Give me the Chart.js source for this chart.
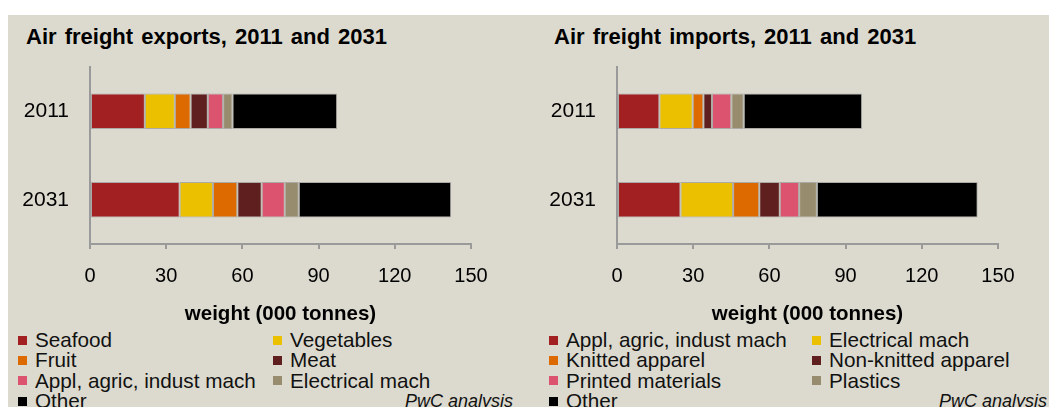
<!DOCTYPE html>
<html>
<head>
<meta charset="utf-8">
<script src="https://cdn.jsdelivr.net/npm/chart.js@4"></script>
<style>
  body {
    margin: 0;
    width: 1049px;
    height: 407px;
    overflow: hidden;
    background: #ffffff;
    font-family: "Liberation Sans", Arial, sans-serif;
  }
  #panel {
    position: absolute;
    left: 8px;
    top: 15px;
    width: 1041px;
    height: 392px;
    background: #dcdacf;
  }
  .box {
    position: absolute;
    top: 15px;
    height: 310px;
  }
  #exportsBox { left: 8px; width: 517px; }
  #importsBox { left: 533px; width: 516px; }
  .title {
    position: absolute;
    top: 24px;
    font-size: 22px;
    font-weight: bold;
    line-height: 26px;
    word-spacing: 2px;
    color: #000;
    white-space: nowrap;
  }
  .legend {
    position: absolute;
    top: 330px;
    display: grid;
    grid-auto-rows: 20.3px;
    font-size: 20.7px;
    color: #111;
    white-space: nowrap;
  }
  #exportsLegend { left: 18px; grid-template-columns: 255px 240px; }
  #importsLegend { left: 549px; grid-template-columns: 263px 235px; }
  .item { display: flex; align-items: center; line-height: 20px; }
  .swatch { width: 9px; height: 9px; margin-right: 8px; flex: none; }
  .source {
    position: absolute;
    top: 391px;
    font-size: 18px;
    font-style: italic;
    line-height: 20px;
    color: #111;
    text-align: right;
  }
</style>
</head>
<body>
<div id="panel"></div>
<div class="title" style="left: 26px;">Air freight exports, 2011 and 2031</div>
<div class="title" style="left: 554px;">Air freight imports, 2011 and 2031</div>
<div class="box" id="exportsBox"><canvas id="exportsChart"></canvas></div>
<div class="box" id="importsBox"><canvas id="importsChart"></canvas></div>
<div class="legend" id="exportsLegend"></div>
<div class="legend" id="importsLegend"></div>
<div class="source" style="left: 380px; width: 133px;">PwC analysis</div>
<div class="source" style="left: 914px; width: 133px;">PwC analysis</div>

<script>
const years = ['2011', '2031'];
const xTicks = [0, 30, 60, 90, 120, 150];

// exports, thousand tonnes
const exportLabels = ['Seafood', 'Vegetables', 'Fruit', 'Meat', 'Appl, agric, indust mach', 'Electrical mach', 'Other'];
const exportSeafood = [21.6, 35.3];
const exportVegetables = [11.8, 13.1];
const exportFruit = [6.2, 9.6];
const exportMeat = [6.8, 9.6];
const exportMachinery = [6.0, 9.1];
const exportElectrical = [3.7, 5.5];
const exportOther = [41.2, 60.0];

// imports, thousand tonnes
const importLabels = ['Appl, agric, indust mach', 'Electrical mach', 'Knitted apparel', 'Non-knitted apparel', 'Printed materials', 'Plastics', 'Other'];
const importMachinery = [16.7, 25.0];
const importElectrical = [13.1, 20.7];
const importKnitted = [4.2, 10.3];
const importNonKnitted = [3.4, 8.1];
const importPrinted = [7.6, 7.6];
const importPlastics = [4.9, 7.0];
const importOther = [46.6, 63.3];

const palette = ['#a21f22', '#ebc000', '#dd6a00', '#5f1f1f', '#dc536f', '#978c6d', '#000000'];

const axisGrey = '#9a9a9a';

function buildChart(canvasId, labels, series, pad) {
    const datasets = series.map((values, i) => ({
        label: labels[i],
        data: values,
        backgroundColor: palette[i],
        borderColor: 'rgba(150, 150, 150, 0.7)',
        borderWidth: 1,
        borderSkipped: false,
        barPercentage: 0.4,
        categoryPercentage: 1
    }));

    return new Chart(document.getElementById(canvasId), {
        type: 'bar',
        data: { labels: years, datasets: datasets },
        options: {
            indexAxis: 'y',
            responsive: true,
            maintainAspectRatio: false,
            animation: false,
            layout: { padding: { left: 0, right: pad.right, top: 52, bottom: 0 } },
            plugins: {
                legend: { display: false },
                tooltip: { enabled: false }
            },
            scales: {
                x: {
                    stacked: true,
                    min: xTicks[0],
                    max: xTicks[xTicks.length - 1],
                    afterBuildTicks: (scale) => {
                        scale.ticks = xTicks.map(v => ({ value: v }));
                    },
                    afterFit: (scale) => { scale.height = 81; },
                    ticks: {
                        color: '#000',
                        padding: 15,
                        maxRotation: 0,
                        font: { family: 'Liberation Sans', size: 20 }
                    },
                    grid: {
                        drawOnChartArea: false,
                        drawTicks: true,
                        tickLength: 5,
                        color: axisGrey,
                        lineWidth: 2
                    },
                    border: { display: true, color: axisGrey, width: 2 },
                    title: {
                        display: true,
                        text: 'weight (000 tonnes)',
                        color: '#000',
                        font: { family: 'Liberation Sans', size: 20.5, weight: 'bold', lineHeight: 1 },
                        padding: { top: 0, bottom: 0 }
                    }
                },
                y: {
                    stacked: true,
                    afterFit: (scale) => { scale.width = pad.axis; },
                    ticks: {
                        color: '#000',
                        padding: 21,
                        font: { family: 'Liberation Sans', size: 21 }
                    },
                    grid: { display: false, drawTicks: false },
                    border: { display: true, color: axisGrey, width: 2 }
                }
            }
        }
    });
}

function buildLegend(chart, holderId) {
    const holder = document.getElementById(holderId);
    chart.data.datasets.forEach(ds => {
        const item = document.createElement('div');
        item.className = 'item';
        const swatch = document.createElement('span');
        swatch.className = 'swatch';
        swatch.style.background = ds.backgroundColor;
        const text = document.createElement('span');
        text.textContent = ds.label;
        item.appendChild(swatch);
        item.appendChild(text);
        holder.appendChild(item);
    });
}

const exportsChart = buildChart('exportsChart', exportLabels,
    [exportSeafood, exportVegetables, exportFruit, exportMeat, exportMachinery, exportElectrical, exportOther],
    { right: 54, axis: 82 });

const importsChart = buildChart('importsChart', importLabels,
    [importMachinery, importElectrical, importKnitted, importNonKnitted, importPrinted, importPlastics, importOther],
    { right: 51, axis: 84 });

buildLegend(exportsChart, 'exportsLegend');
buildLegend(importsChart, 'importsLegend');
</script>
</body>
</html>
